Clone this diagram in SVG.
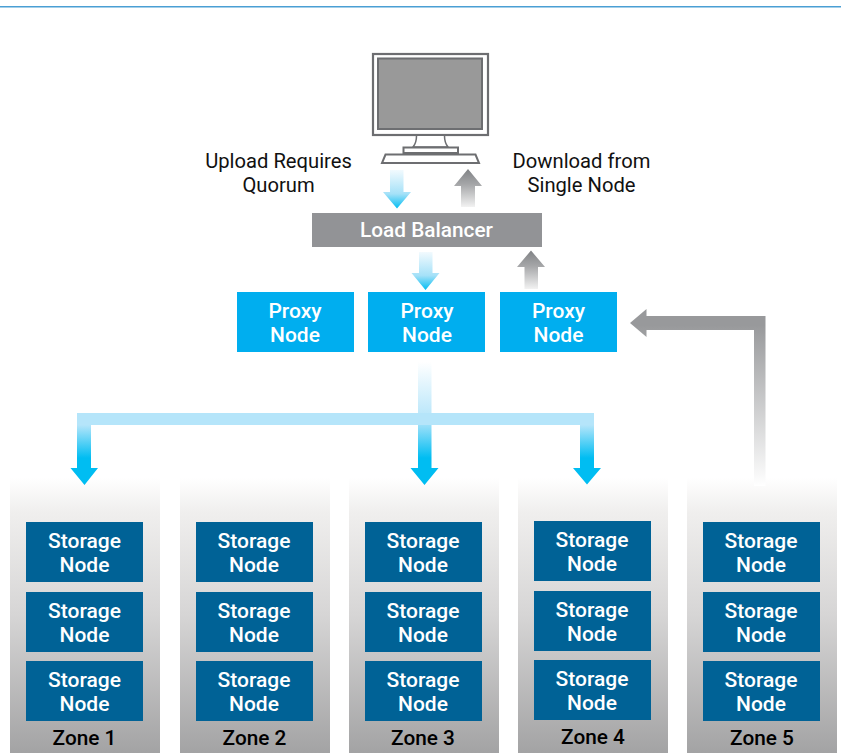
<svg xmlns="http://www.w3.org/2000/svg" width="841" height="753" viewBox="0 0 841 753">
<defs>
<linearGradient id="zone" x1="0" y1="0" x2="0" y2="1"><stop offset="0" stop-color="#ffffff"/><stop offset="0.12" stop-color="#f0efee"/><stop offset="0.5" stop-color="#d6d5d5"/><stop offset="1" stop-color="#a3a3a4"/></linearGradient>
<linearGradient id="bd" x1="0" y1="0" x2="0" y2="1"><stop offset="0" stop-color="#f2fafe"/><stop offset="0.62" stop-color="#a5e1f8"/><stop offset="1" stop-color="#00bdf2"/></linearGradient>
<linearGradient id="bv" gradientUnits="userSpaceOnUse" x1="0" y1="425" x2="0" y2="458"><stop offset="0" stop-color="#b5e5fa"/><stop offset="1" stop-color="#00bdf2"/></linearGradient>
<linearGradient id="bc" gradientUnits="userSpaceOnUse" x1="0" y1="362" x2="0" y2="458"><stop offset="0" stop-color="#ffffff"/><stop offset="0.6" stop-color="#b5e5fa"/><stop offset="1" stop-color="#00bdf2"/></linearGradient>
<linearGradient id="gu" x1="0" y1="1" x2="0" y2="0"><stop offset="0" stop-color="#f2f2f2"/><stop offset="0.6" stop-color="#a5a6a8"/><stop offset="1" stop-color="#808285"/></linearGradient>
<linearGradient id="gr" gradientUnits="userSpaceOnUse" x1="0" y1="486" x2="0" y2="325"><stop offset="0" stop-color="#ffffff"/><stop offset="1" stop-color="#98999b"/></linearGradient>
</defs>
<style>
.t{font-family:Roboto,"Liberation Sans",sans-serif;text-anchor:middle}
.n{font-size:21px;font-weight:500;fill:#fff}
.l{font-size:20.200px;fill:#111}
.z{font-size:20.800px;font-weight:500;fill:#000}
.s{fill:#006296}
.p{fill:#00aeef}
</style>
<rect width="841" height="753" fill="#fff"/>
<rect x="0" y="6" width="841" height="1.500" fill="#4a9fd4"/>

<g id="computer" fill="none" stroke="#6d6e71">
<rect x="373" y="54" width="115" height="81" fill="#fff" stroke-width="2.200"/>
<rect x="378" y="58.500" width="104" height="70.500" fill="#999" stroke-width="2"/>
<path d="M416.500 136c0 6-1 8-3.500 11h35c-2.500-3-3.500-5-3.500-11" fill="#fff" stroke-width="1.500"/>
<rect x="403.500" y="147.500" width="54.500" height="5.500" fill="#fff" stroke-width="2"/>
<path d="M385.500 154.500h90l3.500 8.500h-97z" fill="#fff" stroke-width="2"/>
</g>
<g id="label-upload"><text class="t l" x="278.500" y="168">Upload Requires</text><text class="t l" x="278.500" y="192">Quorum</text></g>
<g id="label-download"><text class="t l" x="581.500" y="168">Download from</text><text class="t l" x="581.500" y="192">Single Node</text></g>
<g id="load-balancer"><rect x="312" y="213" width="230" height="34" fill="#929396"/><text class="t n" x="426.500" y="237" style="font-size:20.800px">Load Balancer</text></g>
<g id="proxy-1"><rect class="p" x="237" y="292" width="117" height="60"/><text class="t n" x="295" y="318">Proxy</text><text class="t n" x="295" y="342">Node</text></g>
<g id="proxy-2"><rect class="p" x="368" y="292" width="117" height="60"/><text class="t n" x="427" y="318">Proxy</text><text class="t n" x="427" y="342">Node</text></g>
<g id="proxy-3"><rect class="p" x="500" y="292" width="117" height="60"/><text class="t n" x="558.500" y="318">Proxy</text><text class="t n" x="558.500" y="342">Node</text></g>

<g id="zone-1"><rect x="10" y="478" width="150" height="275" fill="url(#zone)"/>
<rect class="s" x="26" y="522" width="117" height="60"/><text class="t n" x="84.500" y="548">Storage</text><text class="t n" x="84.500" y="572">Node</text>
<rect class="s" x="26" y="592" width="117" height="60"/><text class="t n" x="84.500" y="618">Storage</text><text class="t n" x="84.500" y="642">Node</text>
<rect class="s" x="26" y="661" width="117" height="60"/><text class="t n" x="84.500" y="687">Storage</text><text class="t n" x="84.500" y="711">Node</text>
<text class="t z" x="84.500" y="745">Zone 1</text></g>
<g id="zone-2"><rect x="180" y="478" width="150" height="275" fill="url(#zone)"/>
<rect class="s" x="196" y="522" width="117" height="60"/><text class="t n" x="254" y="548">Storage</text><text class="t n" x="254" y="572">Node</text>
<rect class="s" x="196" y="592" width="117" height="60"/><text class="t n" x="254" y="618">Storage</text><text class="t n" x="254" y="642">Node</text>
<rect class="s" x="196" y="661" width="117" height="60"/><text class="t n" x="254" y="687">Storage</text><text class="t n" x="254" y="711">Node</text>
<text class="t z" x="254.500" y="745">Zone 2</text></g>
<g id="zone-3"><rect x="349" y="478" width="150" height="275" fill="url(#zone)"/>
<rect class="s" x="365" y="522" width="117" height="60"/><text class="t n" x="423" y="548">Storage</text><text class="t n" x="423" y="572">Node</text>
<rect class="s" x="365" y="592" width="117" height="60"/><text class="t n" x="423" y="618">Storage</text><text class="t n" x="423" y="642">Node</text>
<rect class="s" x="365" y="661" width="117" height="60"/><text class="t n" x="423" y="687">Storage</text><text class="t n" x="423" y="711">Node</text>
<text class="t z" x="423" y="745">Zone 3</text></g>
<g id="zone-4"><rect x="518" y="478" width="150" height="275" fill="url(#zone)"/>
<rect class="s" x="534" y="521" width="117" height="60"/><text class="t n" x="592" y="547">Storage</text><text class="t n" x="592" y="571">Node</text>
<rect class="s" x="534" y="591" width="117" height="60"/><text class="t n" x="592" y="617">Storage</text><text class="t n" x="592" y="641">Node</text>
<rect class="s" x="534" y="660" width="117" height="60"/><text class="t n" x="592" y="686">Storage</text><text class="t n" x="592" y="710">Node</text>
<text class="t z" x="593" y="744">Zone 4</text></g>
<g id="zone-5"><rect x="687" y="478" width="150" height="275" fill="url(#zone)"/>
<rect class="s" x="703" y="522" width="117" height="60"/><text class="t n" x="761" y="548">Storage</text><text class="t n" x="761" y="572">Node</text>
<rect class="s" x="703" y="592" width="117" height="60"/><text class="t n" x="761" y="618">Storage</text><text class="t n" x="761" y="642">Node</text>
<rect class="s" x="703" y="661" width="117" height="60"/><text class="t n" x="761" y="687">Storage</text><text class="t n" x="761" y="711">Node</text>
<text class="t z" x="762" y="745">Zone 5</text></g>

<g id="connectors">
<path d="M390 170h13.500v22h7.500L397 208.500 383 192h7z" fill="url(#bd)"/>
<path d="M461 207v-21h-7l14-17 14 17h-7v21z" fill="url(#gu)"/>
<path d="M419 252h13.500v21h7l-14 17-14-17h7.500z" fill="url(#bd)"/>
<path d="M524.500 289v-22h-7.500l14-16.500 14 16.500h-7v22z" fill="url(#gu)"/>
<path d="M418 362h13.500v106h7l-14 17-14-17h7.500z" fill="url(#bc)"/>
<path d="M77 413H594V468h7L587 484.500 573 468h7V425H91V468h7L84.500 485 70.500 468H77z" fill="url(#bv)"/>
<path d="M765.500 486H754V330H646.500v7L630 323l16.500-14v7H765.500z" fill="url(#gr)"/>
</g>
</svg>
